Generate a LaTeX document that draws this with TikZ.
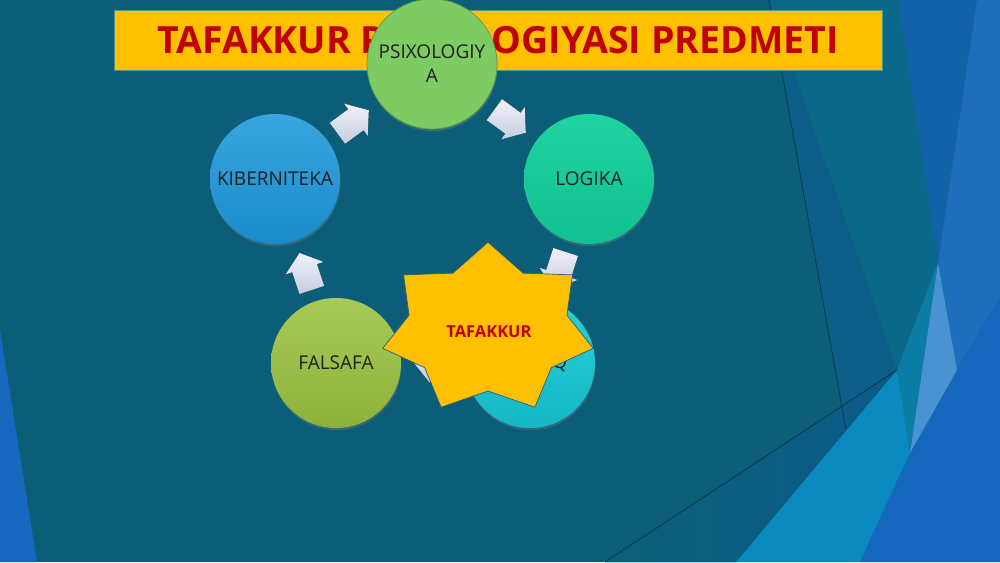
\documentclass[tikz,border=0pt]{standalone}
\usepackage{fontspec}
\setmainfont{Open Sans}
\usetikzlibrary{calc,shadows}
\definecolor{bgteal}{HTML}{0C5E78}
\definecolor{facetA}{HTML}{0A6888}
\definecolor{facetD}{HTML}{0C5E88}
\definecolor{facetDD}{HTML}{0C5A8A}
\definecolor{facetW}{HTML}{0A7DA4}
\definecolor{cyanF}{HTML}{0A89BF}
\definecolor{blueF}{HTML}{1667BE}
\definecolor{blueD}{HTML}{1063A8}
\definecolor{blueL}{HTML}{1D6FBC}
\definecolor{lightF}{HTML}{4A93D3}
\definecolor{thinln}{HTML}{0A3148}
\definecolor{titlefill}{HTML}{FFC000}
\definecolor{titleborder}{HTML}{4A9A8C}
\definecolor{titlered}{HTML}{C00000}
\definecolor{kibtop}{HTML}{38A5DF}
\definecolor{kibbot}{HTML}{1A8BCA}
\definecolor{psifill}{HTML}{7ECA63}
\definecolor{psiborder}{HTML}{5A9A40}
\definecolor{logtop}{HTML}{1ED4A0}
\definecolor{logbot}{HTML}{12C090}
\definecolor{faltop}{HTML}{A9C958}
\definecolor{falbot}{HTML}{8DB23A}
\definecolor{mantop}{HTML}{27D1D7}
\definecolor{manbot}{HTML}{15B7C5}
\definecolor{arrtop}{HTML}{F0F2F9}
\definecolor{arrbot}{HTML}{C6CCE1}
\definecolor{starfill}{HTML}{FFC000}
\definecolor{starborder}{HTML}{2B5B7E}
\tikzset{
  circ/.style={circle, minimum size=130pt, inner sep=0pt, align=center,
    font=\fontsize{19}{24}\selectfont, text=black!88,
    drop shadow={shadow xshift=0.6pt, shadow yshift=-2.2pt, opacity=0.35}},
  blockarrow/.style={top color=arrtop, bottom color=arrbot, draw=none},
  thinline/.style={draw=thinln, line width=0.6pt},
  titlebox/.style={rectangle, fill=titlefill, draw=titleborder, line width=0.8pt,
    minimum width=768pt, minimum height=60pt, inner sep=0pt,
    font=\fontsize{37.5}{40}\selectfont\bfseries, text=titlered},
  starshape/.style={fill=starfill, draw=starborder, line width=0.7pt, line join=miter}
}
\begin{document}
\begin{tikzpicture}[x=1pt,y=-1pt]
\useasboundingbox (0,0) rectangle (1000,562);
% background
\fill[bgteal] (0,0) rectangle (1000,562);
\fill[facetA] (769,0) -- (898,0) -- (938,263) -- (910,453) -- (897,370) -- cycle;
\fill[facetD] (769,0) -- (897,370) -- (842,405) -- cycle;
\fill[left color=bgteal, right color=facetDD] (605,562) -- (897,370) -- (736,562) -- cycle;
\fill[facetW] (897,370) -- (938,263) -- (910,453) -- cycle;
\fill[cyanF] (736,562) -- (860,562) -- (910,453) -- (897,370) -- cycle;
\fill[blueD] (898,0) -- (977,0) -- (938,263) -- cycle;
\fill[blueL] (977,0) -- (1000,0) -- (1000,297) -- (957,370) -- (938,263) -- cycle;
\fill[blueF] (957,370) -- (1000,297) -- (1000,562) -- (860,562) -- (910,453) -- cycle;
\fill[lightF] (938,263) -- (957,370) -- (910,453) -- cycle;
\fill[blueF] (0,330) -- (37,562) -- (0,562) -- cycle;
\draw[thinline] (769,0) -- (846,430);
\draw[thinline] (605,562) -- (897,370);
% title
\node[titlebox] (title) at (498,40) {TAFAKKUR PSIXOLOGIYASI PREDMETI};
% circles
\node[circ, fill=psifill, draw=psiborder, line width=0.7pt] (psi) at (432,64) {PSIXOLOGIY\\A};
\node[circ, top color=logtop, bottom color=logbot] (log) at (589,179) {LOGIKA};
\node[circ, top color=kibtop, bottom color=kibbot] (kib) at (275,179) {KIBERNITEKA};
\node[circ, top color=faltop, bottom color=falbot] (fal) at (336,363) {FALSAFA};
\node[circ, top color=mantop, bottom color=manbot] (man) at (530,363) {MANTIQ};
% arrows between circles
\foreach \a/\b in {kib/psi,psi/log,log/man,man/fal,fal/kib}{
  \pgfmathanglebetweenpoints{\pgfpointanchor{\a}{center}}{\pgfpointanchor{\b}{center}}
  \let\ang\pgfmathresult
  \begin{scope}[shift={($(\a.center)!0.5!(\b.center)$)}, rotate=\ang]
    \fill[blockarrow] (-20,-13) -- (3,-13) -- (3,-20) -- (19,0) -- (3,20) -- (3,13) -- (-20,13) -- cycle;
  \end{scope}
}
% star
\draw[starshape] ({488+108*cos(90)},{329-86.8*sin(90)})
  \foreach \t/\rx/\ry in {115.71/81/62, 141.43/108/86.8, 167.14/81/62, 192.86/108/86.8,
     218.57/81/62, 244.29/108/86.8, 270/81/62, 295.71/108/86.8, 321.43/81/62,
     347.14/108/86.8, 372.86/81/62, 398.57/108/86.8, 424.29/81/62}
  { -- ({488+\rx*cos(\t)},{329-\ry*sin(\t)}) } -- cycle;
\node[font=\fontsize{16.5}{18}\selectfont\bfseries, text=titlered, inner sep=0pt] (tafakkur) at (489,332) {TAFAKKUR};
\end{tikzpicture}
\end{document}
